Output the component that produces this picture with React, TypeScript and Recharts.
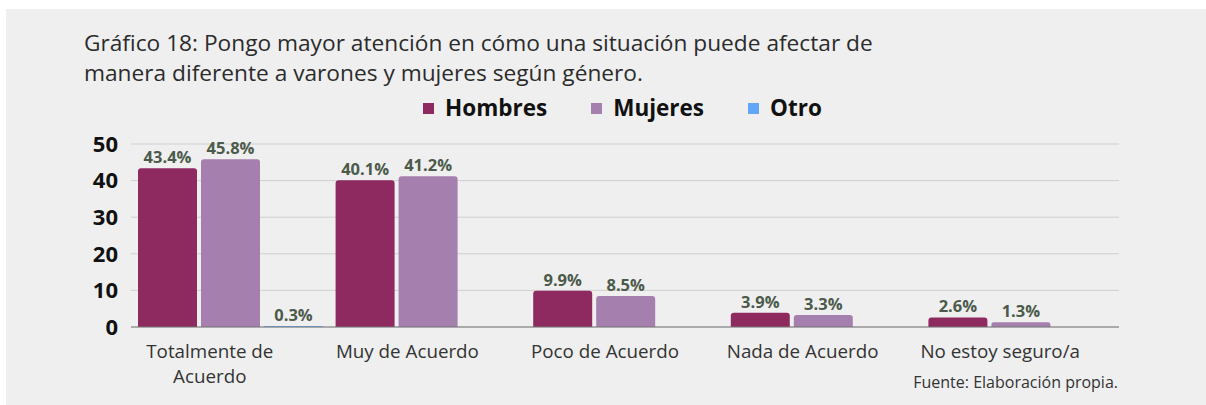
import { Bar, BarChart, CartesianGrid, LabelList, XAxis, YAxis } from "recharts";

const categories = ["Totalmente de Acuerdo", "Muy de Acuerdo", "Poco de Acuerdo", "Nada de Acuerdo", "No estoy seguro/a"];
const hombres = [43.4, 40.1, 9.9, 3.9, 2.6];
const mujeres = [45.8, 41.2, 8.5, 3.3, 1.3];
const otro: (number | null)[] = [0.3, null, null, null, null];
const yTicks = [0, 10, 20, 30, 40, 50];

const series = [
  { key: "hombres", name: "Hombres", color: "#8f2a60" },
  { key: "mujeres", name: "Mujeres", color: "#a57fae" },
  { key: "otro", name: "Otro", color: "#62a7f7" },
];

const data = categories.map((c, i) => ({
  name: c,
  hombres: hombres[i],
  mujeres: mujeres[i],
  otro: otro[i],
}));

const FONT = "'Open Sans', 'Noto Sans', sans-serif";

const fmt = (v: any) => (v == null ? "" : `${v}%`);

// long labels wrap onto two lines, like the original
function wrap(label: string, max = 18): string[] {
  if (label.length <= max) return [label];
  const cut = label.lastIndexOf(" ", max);
  return [label.slice(0, cut), label.slice(cut + 1)];
}

function CatTick({ x, y, payload }: any) {
  const lines = wrap(payload.value);
  return (
    <text x={x - 20} y={y} textAnchor="middle" fontSize={18.8} fontFamily={FONT} fill="#333">
      {lines.map((l, i) => (
        <tspan key={i} x={x - 20} dy={i === 0 ? 13.5 : 25}>
          {l}
        </tspan>
      ))}
    </text>
  );
}

export default function App() {
  return (
    <div style={{ position: "absolute", left: 0, top: 0, width: 1206, height: 405, background: "#fff", fontFamily: FONT }}>
      <div style={{ position: "absolute", left: 6, top: 9, width: 1200, height: 396, background: "#efefef" }}>
        <div
          style={{
            position: "absolute",
            left: 78,
            top: 19,
            fontSize: 22.7,
            lineHeight: "30px",
            color: "#2b2b2b",
            whiteSpace: "nowrap",
          }}
        >
          Gráfico 18: Pongo mayor atención en cómo una situación puede afectar de
          <br />
          manera diferente a varones y mujeres según género.
        </div>

        <div style={{ position: "absolute", left: 417, top: 87, display: "flex", gap: 44, lineHeight: "24px" }}>
          {series.map((s) => (
            <div key={s.key} style={{ display: "flex", alignItems: "center", gap: 11 }}>
              <span style={{ width: 11, height: 11, background: s.color, display: "inline-block" }} />
              <span style={{ fontSize: 22.5, fontWeight: 700, color: "#111" }}>{s.name}</span>
            </div>
          ))}
        </div>

        <BarChart
          width={1200}
          height={396}
          data={data}
          margin={{ top: 135, right: 87, left: 0, bottom: 48 }}
          barCategoryGap={7}
          barGap={4}
        >
          <CartesianGrid vertical={false} stroke="#cfcfcf" />
          <XAxis
            dataKey="name"
            tick={<CatTick />}
            tickLine={false}
            axisLine={{ stroke: "#777" }}
            tickSize={6}
            tickMargin={11}
            height={30}
            interval={0}
          />
          <YAxis
            domain={[0, 50]}
            ticks={yTicks}
            width={125}
            axisLine={false}
            tickLine={false}
            tickSize={0}
            tickMargin={13}
            tick={{ fontSize: 22, fontWeight: 700, fill: "#111", fontFamily: FONT }}
          />
          {series.map((s) => (
            <Bar key={s.key} dataKey={s.key} name={s.name} fill={s.color} radius={[3, 3, 0, 0]} isAnimationActive={false}>
              <LabelList
                dataKey={s.key}
                position="top"
                offset={5}
                formatter={fmt}
                style={{ fontSize: 16.5, fontWeight: 700, fill: "#4c5a4b", fontFamily: FONT }}
              />
            </Bar>
          ))}
        </BarChart>

        <div
          style={{
            position: "absolute",
            right: 88,
            top: 363,
            fontSize: 16,
            lineHeight: "20px",
            color: "#333",
            whiteSpace: "nowrap",
          }}
        >
          Fuente: Elaboración propia.
        </div>
      </div>
    </div>
  );
}
